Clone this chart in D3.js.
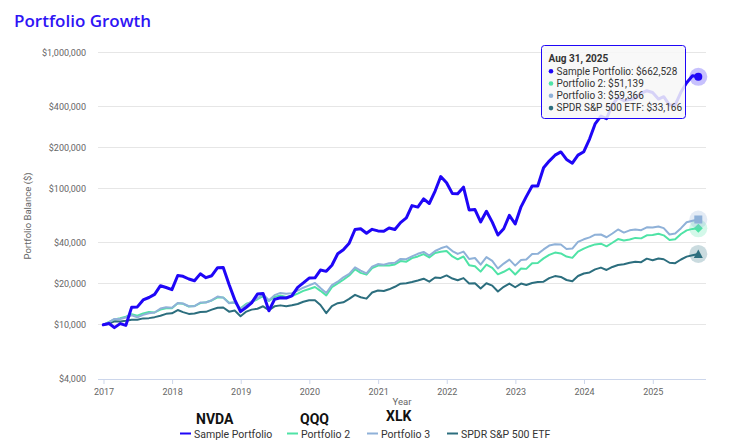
<!DOCTYPE html>
<html><head><meta charset="utf-8">
<script src="https://cdn.jsdelivr.net/npm/d3@7"></script>
<style>body{margin:0;background:#fff}svg{display:block}</style>
</head><body><svg id="c" width="743" height="444"></svg>
<script>
// ---- data (month-end values, Dec 2016 .. Aug 2025) ----
const seriesNames = ["Sample Portfolio","Portfolio 2","Portfolio 3","SPDR S&P 500 ETF"];
const tickers = ["NVDA","QQQ","XLK"];
const yTicks = [4000,10000,20000,40000,100000,200000,400000,1000000];
const xTickYears = [2017,2018,2019,2020,2021,2022,2023,2024,2025];
const tooltipDate = "Aug 31, 2025";

const samplePortfolio = [10000,10229,9534,10205,9900,13482,13543,15225,15870,16748,19375,18804,18128,
23028,22720,21697,21070,23679,22194,22940,26293,26328,19752,15311,12507,
13468,14477,16822,16956,12692,15386,15806,15734,16308,18834,20307,22044,
22150,25260,24700,27390,33270,35610,39800,50150,50740,47010,50270,48970,
48730,51460,50100,56340,60980,75090,73210,84050,77800,96010,122700,110450,
91980,91620,102520,69710,70190,56990,68300,56770,45670,50790,63690,55010,
73560,87430,104630,104550,142560,159420,176140,186110,164060,153820,176440,186850,
232240,298660,341190,326260,414000,467530,442920,451910,459820,502860,523700,508740,
454980,473480,410900,413020,512600,599560,675420,662528];

const portfolio2 = [10000,10512,10963,11193,11483,11955,11659,12129,12421,12341,12941,13228,13241,
14426,14262,13637,13731,14432,14643,15102,15892,15879,14529,14595,13207,
14278,14677,15409,16266,14948,16045,16434,16018,16251,16965,17746,18332,
18962,17766,16446,18935,20133,21424,23025,25595,24083,23364,26075,27243,
27349,27245,27759,29412,29078,30883,31785,33088,31243,33722,34365,34788,
31790,30275,31755,27432,26926,24593,27707,26225,23491,24522,25856,23445,
25937,25756,28306,28466,30763,32638,33918,33434,31708,31026,34452,36306,
37805,38964,39431,37728,40071,42621,41678,42385,43492,43140,45474,45633,
46646,45412,41928,42495,46468,49407,50634,51139];

const portfolio3 = [10000,10455,11040,11050,11316,11761,11369,11832,12147,12309,13182,13467,13351,
14479,14336,13690,13713,14582,14572,15159,16145,15839,14380,14635,13062,
14001,14883,15632,16716,15132,16524,17150,16883,17092,17833,18732,19502,
20285,18613,17138,19603,20726,22333,23651,26449,25000,23883,26753,27918,
27669,28306,28583,30490,30325,31852,33233,34304,32285,34833,36483,37679,
34810,33163,34520,30445,30949,27674,31459,29488,25924,28167,30100,27214,
29881,30133,33100,33210,35781,38194,39102,38892,36095,36308,40622,42477,
43901,45937,46063,43954,46875,50148,47553,49422,50156,49533,52038,51774,
52770,51288,46078,46786,51257,56636,58200,59366];

const spdr = [10000,10193,10610,10591,10712,10879,10910,11150,11198,11384,11669,12042,12143,
12846,12396,12025,12104,12416,12448,12928,13359,13396,12488,12738,11564,
12508,12931,13125,13679,12826,13670,13895,13682,13904,14230,14765,15141,
15154,13974,12174,13738,14412,14624,15505,16610,15947,15569,17286,17874,
17717,18233,19023,20058,20215,20628,21161,21819,20763,22250,22100,23071,
21882,21266,22025,20119,20191,18470,20197,19397,17556,19007,20089,18871,
20083,19603,20278,20630,20751,22042,22794,22452,21338,20902,22842,23818,
24228,25526,26311,25282,26596,27480,27847,28533,29082,28858,30617,29819,
30658,30306,28566,28357,30175,31671,32442,33166];

const colors = ["#1f06f7","#4fe3a6","#8fb1d8","#2c6e7e"];
const widths = [3,2,2,2];
const allSeries = [samplePortfolio, portfolio2, portfolio3, spdr];

// ---- drawing ----
const svg = d3.select("#c");
const font = "Roboto, 'Liberation Sans', sans-serif";
const monthDate = i => new Date(Date.UTC(2017, i, 0));

const x = d3.scaleUtc().domain([monthDate(0), monthDate(samplePortfolio.length-1)]).range([103.3, 698.3]);
const y = d3.scaleLog().domain([4000, 1000000]).range([379, 52.5]);
const gx0 = 98, gx1 = 706;

svg.append("rect").attr("width",743).attr("height",444).attr("fill","#fff");

svg.append("text").attr("x",14).attr("y",27).text("Portfolio Growth")
  .attr("font-family","'Open Sans', sans-serif").attr("font-size",17).attr("font-weight",600).attr("fill","#2f14f5");

// grid
svg.append("g").selectAll("line").data(yTicks.filter(t=>t>4000)).join("line")
  .attr("x1",gx0).attr("x2",gx1).attr("y1",d=>y(d)).attr("y2",d=>y(d))
  .attr("stroke","#e6e6e6").attr("stroke-width",1).attr("shape-rendering","crispEdges");

// y labels
svg.append("g").selectAll("text").data(yTicks).join("text")
  .attr("x",86).attr("y",d=>y(d)+3).attr("text-anchor","end")
  .attr("font-family",font).attr("font-size",9).attr("fill","#666")
  .text(d=>"$"+d3.format(",")(d));

// x axis
const xa = svg.append("g").attr("transform","translate(0,379)")
  .call(d3.axisBottom(x).tickValues(xTickYears.map(yv=>new Date(Date.UTC(yv,0,1)))).tickFormat(d3.utcFormat("%Y")).tickSize(5).tickSizeOuter(0));
xa.select(".domain").remove();
xa.selectAll(".tick line").attr("stroke","#ccd6eb");
xa.selectAll(".tick text").attr("font-family",font).attr("font-size",9).attr("fill","#666").attr("dy","0.9em");
svg.append("line").attr("x1",gx0).attr("x2",gx1).attr("y1",379.5).attr("y2",379.5).attr("stroke","#ccd6eb");

svg.append("text").attr("x",402).attr("y",404.5).attr("text-anchor","middle").text("Year")
  .attr("font-family",font).attr("font-size",9.5).attr("fill","#666");
svg.append("text").attr("transform","translate(31,216) rotate(-90)").attr("text-anchor","middle").text("Portfolio Balance ($)")
  .attr("font-family",font).attr("font-size",9.5).attr("fill","#666");

// lines
const line = d3.line().x((d,i)=>x(monthDate(i))).y(d=>y(d));
const order = [3,1,2,0];
const plot = svg.append("g");
order.forEach(k=>{
  plot.append("path").datum(allSeries[k]).attr("d",line).attr("fill","none")
    .attr("stroke",colors[k]).attr("stroke-width",widths[k]).attr("stroke-linejoin","round").attr("stroke-linecap","round");
});

// end markers with halos
const last = samplePortfolio.length-1;
const ex = x(monthDate(last));
order.forEach(k=>{
  const ey = y(allSeries[k][last]);
  plot.append("circle").attr("cx",ex).attr("cy",ey).attr("r",9).attr("fill",colors[k]).attr("fill-opacity",0.25);
  const g = plot.append("g").attr("transform",`translate(${ex},${ey})`);
  if(k===0) g.append("circle").attr("r",4).attr("fill",colors[k]);
  if(k===2) g.append("rect").attr("x",-4).attr("y",-4).attr("width",8).attr("height",8).attr("fill",colors[k]);
  if(k===1) g.append("path").attr("d","M0,-4.5L4.5,0L0,4.5L-4.5,0Z").attr("fill",colors[k]);
  if(k===3) g.append("path").attr("d","M0,-4.5L4.5,4L-4.5,4Z").attr("fill",colors[k]);
});

// legend
const legX = [180,287,367,447];
seriesNames.forEach((n,k)=>{
  svg.append("line").attr("x1",legX[k]).attr("x2",legX[k]+11).attr("y1",433.5).attr("y2",433.5)
    .attr("stroke",colors[k]).attr("stroke-width",2);
  svg.append("text").attr("x",legX[k]+14).attr("y",438).text(n)
    .attr("font-family",font).attr("font-size",10.5).attr("fill","#333");
});
const tkPos = [[196,424],[300,424],[386,421]];
tickers.forEach((t,i)=>{
  svg.append("text").attr("x",tkPos[i][0]).attr("y",tkPos[i][1]).text(t)
    .attr("font-family",font).attr("font-size",14).attr("font-weight",700).attr("fill","#111");
});

// tooltip
const tt = svg.append("g").attr("transform","translate(541.5,45.5)");
tt.append("rect").attr("width",144).attr("height",73).attr("rx",3)
  .attr("fill","#f7f7f7").attr("fill-opacity",0.85).attr("stroke",colors[0]).attr("stroke-width",1);
tt.append("text").attr("x",7).attr("y",16).text(tooltipDate)
  .attr("font-family",font).attr("font-size",10).attr("font-weight",700).attr("fill","#333");
const fmt = d3.format(",");
seriesNames.forEach((n,k)=>{
  const yy = 29 + k*12.3;
  tt.append("circle").attr("cx",9.5).attr("cy",yy-3.3).attr("r",2.3).attr("fill",colors[k]);
  tt.append("text").attr("x",15).attr("y",yy).text(`${n}: $${fmt(allSeries[k][last])}`)
    .attr("font-family",font).attr("font-size",10).attr("fill","#333");
});
</script></body></html>
